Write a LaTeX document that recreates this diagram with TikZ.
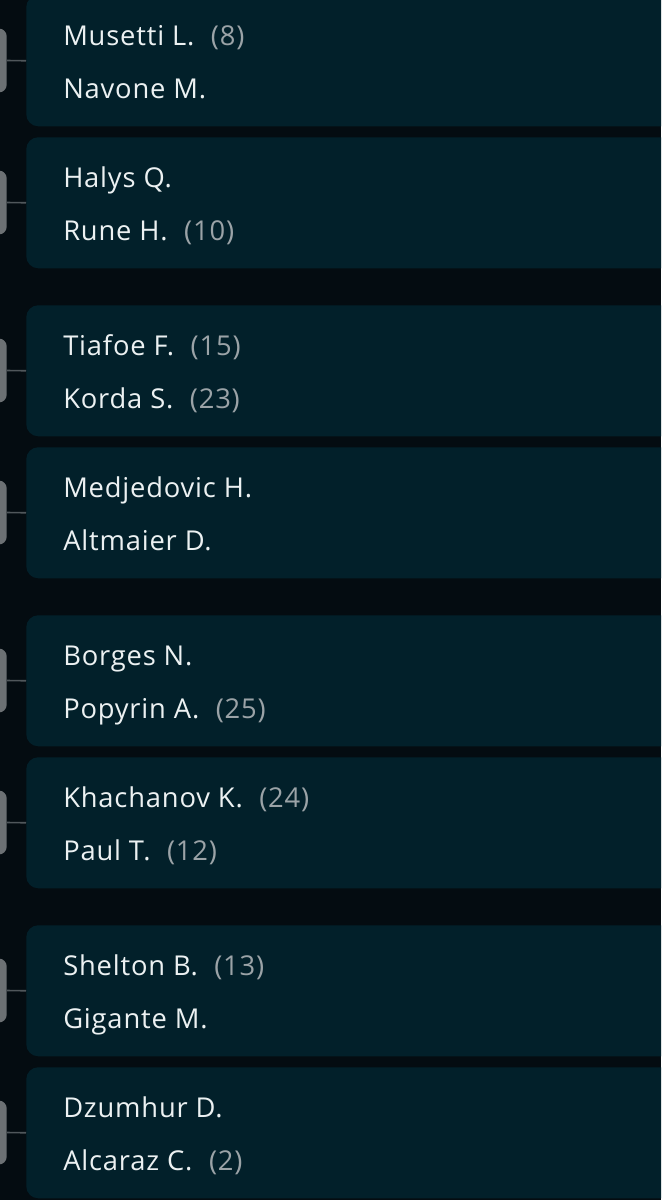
\documentclass[tikz,border=0pt]{standalone}
\usepackage{fontspec}
\setmainfont[Ligatures={NoCommon},LetterSpace=3]{Open Sans}
\usetikzlibrary{positioning}

\definecolor{bgdark}{HTML}{040C11}
\definecolor{boxfill}{HTML}{02202A}
\definecolor{tabgrey}{HTML}{6C7174}
\definecolor{linkgrey}{HTML}{50575B}
\definecolor{namewhite}{HTML}{ECF1F2}
\definecolor{seedgrey}{HTML}{9BA3A7}

\tikzset{
  matchbox/.style={fill=boxfill,rounded corners=9pt,minimum width=525pt,minimum height=98.25pt,inner sep=0pt,anchor=north west},
  tabbox/.style={fill=tabgrey,rounded corners=6pt,minimum width=18pt,minimum height=48pt,inner sep=0pt,anchor=east},
  link/.style={linkgrey,line width=1.2pt},
  player/.style={text=namewhite,font=\fontsize{20.5pt}{24pt}\selectfont,inner sep=0pt,anchor=base west},
  seed/.style={text=seedgrey,font=\fontsize{20.5pt}{24pt}\selectfont,inner sep=0pt}
}

\begin{document}
\begin{tikzpicture}[x=0.75pt,y=-0.75pt]
\fill[bgdark] (0,0) rectangle (661,1200);
\useasboundingbox (0,0) rectangle (661,1200);
\clip (0,0) rectangle (661,1200);

% matches, two per block
\foreach \pa/\sa/\pb/\sb [count=\n] in {
    Musetti L./(8)/Navone M./{},
    Halys Q./{}/Rune H./(10),
    Tiafoe F./(15)/Korda S./(23),
    Medjedovic H./{}/Altmaier D./{},
    Borges N./{}/Popyrin A./(25),
    Khachanov K./(24)/Paul T./(12),
    Shelton B./(13)/Gigante M./{},
    Dzumhur D./{}/Alcaraz C./(2)}
{
  \pgfmathsetmacro\boxtop{-5+310*floor((\n-1)/2)+142*mod(\n-1,2)}
  \node[matchbox] (box\n) at (26,\boxtop) {};
  \node[tabbox] (tab\n) at (7,\boxtop+65.5) {};
  \draw[link] (tab\n.east) -- (box\n.west);
  \node[player] (pa\n) at (63,\boxtop+50) {\pa};
  \node[seed,base right=12pt of pa\n] (sa\n) {\sa};
  \node[player] (pb\n) at (63,\boxtop+103) {\pb};
  \node[seed,base right=12pt of pb\n] (sb\n) {\sb};
}
\end{tikzpicture}
\end{document}
